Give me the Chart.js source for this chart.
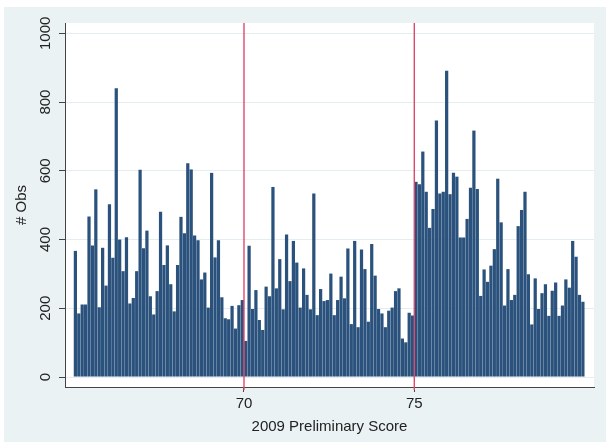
<!DOCTYPE html>
<html>
<head>
<meta charset="utf-8">
<script src="https://cdn.jsdelivr.net/npm/chart.js@4.4.0/dist/chart.umd.min.js"></script>
<style>
  html, body { margin: 0; padding: 0; background: #fff; }
  canvas { display: block; }
</style>
</head>
<body>
<canvas id="histChart" width="606" height="442"></canvas>
<script>
// Histogram bins: 0.1 wide, starting at 65.0
const binStart = 65;
const binWidth = 0.1;

// Number of observations per bin (65.0 ... 79.9)
const counts = [
  367, 185, 211, 211, 467, 383, 546, 203, 376, 266,
  503, 347, 840, 400, 308, 407, 214, 230, 308, 603,
  375, 426, 235, 182, 250, 481, 326, 383, 270, 191,
  326, 466, 418, 622, 604, 412, 398, 284, 304, 202,
  594, 348, 398, 232, 171, 168, 207, 141, 209, 224,
  105, 382, 198, 253, 166, 137, 263, 235, 553, 258,
  343, 197, 415, 279, 396, 333, 202, 316, 239, 197,
  534, 180, 256, 221, 224, 301, 180, 224, 292, 229,
  374, 154, 396, 145, 371, 314, 161, 387, 295, 198,
  185, 145, 193, 202, 250, 258, 112, 101, 187, 179,
  568, 561, 656, 539, 434, 489, 746, 534, 539, 891,
  532, 594, 583, 406, 406, 460, 551, 717, 547, 236,
  313, 277, 324, 372, 577, 450, 208, 314, 224, 239,
  439, 486, 539, 299, 153, 287, 198, 244, 270, 178,
  251, 275, 178, 208, 284, 260, 396, 350, 239, 219
];

const xTicks = [70, 75];
const yTicks = [0, 200, 400, 600, 800, 1000];
const cutoffs = [70, 75];
const xTitle = '2009 Preliminary Score';
const yTitle = '# Obs';

const points = counts.map((c, i) => ({ x: binStart + binWidth * (i + 0.5), y: c }));

Chart.defaults.font.family = '"Liberation Sans", Arial, sans-serif';
Chart.defaults.font.size = 15;
Chart.defaults.color = '#222';

// Stata-like backdrop: light blue graph region, white plot region
const backdrop = {
  id: 'backdrop',
  beforeDraw(chart) {
    const { ctx, chartArea: a } = chart;
    ctx.save();
    ctx.fillStyle = '#ffffff';
    ctx.fillRect(0, 0, chart.width, chart.height);
    ctx.fillStyle = '#eaf2f3';
    ctx.fillRect(4, 7, chart.width - 4, chart.height - 7);
    ctx.fillStyle = '#ffffff';
    ctx.fillRect(a.left, a.top, a.right - a.left, a.bottom - a.top);
    ctx.restore();
  }
};

// Red vertical lines at the cutoffs
const cutoffLines = {
  id: 'cutoffLines',
  afterDatasetsDraw(chart) {
    const { ctx, chartArea: a, scales: { x } } = chart;
    ctx.save();
    ctx.strokeStyle = '#e0476c';
    ctx.lineWidth = 1.4;
    cutoffs.forEach(v => {
      const px = x.getPixelForValue(v);
      ctx.beginPath();
      ctx.moveTo(px, a.top);
      ctx.lineTo(px, a.bottom + 3);
      ctx.stroke();
    });
    ctx.restore();
  }
};

new Chart(document.getElementById('histChart'), {
  type: 'bar',
  data: {
    datasets: [{
      data: points,
      backgroundColor: '#2a527c',
      borderWidth: 0,
      barPercentage: 0.95,
      categoryPercentage: 1
    }]
  },
  options: {
    responsive: false,
    animation: false,
    devicePixelRatio: 1,
    layout: { padding: { top: 23, right: 12, left: 0, bottom: 0 } },
    plugins: { legend: { display: false }, tooltip: { enabled: false } },
    scales: {
      x: {
        type: 'linear',
        min: 64.745,
        max: 80.276,
        offset: false,
        afterFit: s => { s.height = 55; },
        afterBuildTicks: s => { s.ticks = xTicks.map(v => ({ value: v })); },
        grid: { offset: false, drawOnChartArea: false, drawTicks: true, tickLength: 5, tickColor: '#444' },
        border: { display: true, color: '#444', width: 1 },
        ticks: { maxRotation: 0, autoSkip: false, padding: 3, color: '#222', callback: v => String(v) },
        title: { display: true, text: xTitle, color: '#222', padding: { top: 0, bottom: 6 } }
      },
      y: {
        type: 'linear',
        min: -29,
        max: 1030,
        afterFit: s => { s.width = 65; },
        afterBuildTicks: s => { s.ticks = yTicks.map(v => ({ value: v })); },
        grid: { color: '#e4edef', drawTicks: true, tickLength: 6, tickColor: '#444' },
        border: { display: true, color: '#444', width: 1 },
        ticks: { minRotation: 90, maxRotation: 90, crossAlign: 'center', padding: -3.7, color: '#222', callback: v => String(v) },
        title: { display: true, text: yTitle, color: '#222', padding: { top: 13, bottom: 0 } }
      }
    }
  },
  plugins: [backdrop, cutoffLines]
});
</script>
</body>
</html>
